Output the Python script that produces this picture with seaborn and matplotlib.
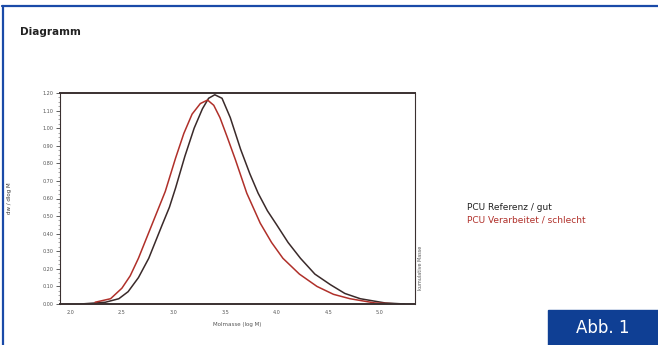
import numpy as np
import pandas as pd
import matplotlib
matplotlib.use("Agg")
import matplotlib.pyplot as plt
import seaborn as sns

# log molar mass vs. normalised signal
x_ref = [2.10, 2.34, 2.47, 2.56, 2.66, 2.76, 2.89, 2.96, 3.02, 3.11, 3.20, 3.28, 3.34,
         3.40, 3.47, 3.55, 3.65, 3.74, 3.82, 3.91, 4.00, 4.11, 4.23, 4.37, 4.52, 4.66,
         4.81, 5.05, 5.24]
y_ref = [0.00, 0.01, 0.03, 0.07, 0.15, 0.26, 0.45, 0.55, 0.66, 0.84, 1.00, 1.11, 1.17,
         1.19, 1.17, 1.06, 0.88, 0.74, 0.63, 0.53, 0.45, 0.35, 0.26, 0.17, 0.11, 0.06,
         0.03, 0.006, 0.0]

x_proc = [2.24, 2.39, 2.50, 2.58, 2.66, 2.79, 2.92, 3.02, 3.10, 3.18, 3.26, 3.33, 3.39,
          3.45, 3.52, 3.60, 3.71, 3.84, 3.95, 4.06, 4.22, 4.39, 4.55, 4.71, 4.95, 5.19]
y_proc = [0.01, 0.03, 0.09, 0.16, 0.26, 0.45, 0.64, 0.83, 0.97, 1.08, 1.14, 1.16, 1.13,
          1.06, 0.95, 0.82, 0.63, 0.46, 0.35, 0.26, 0.17, 0.10, 0.055, 0.03, 0.006, 0.0]

x_ticks = [2.0, 2.5, 3.0, 3.5, 4.0, 4.5, 5.0]
y_ticks = [0.0, 0.1, 0.2, 0.3, 0.4, 0.5, 0.6, 0.7, 0.8, 0.9, 1.0, 1.1, 1.2]

series_names = ["PCU Referenz / gut", "PCU Verarbeitet / schlecht"]
series_colors = ["#3a2a2a", "#b0302a"]

df = pd.concat([
    pd.DataFrame({"logM": x_ref, "w": y_ref, "probe": series_names[0]}),
    pd.DataFrame({"logM": x_proc, "w": y_proc, "probe": series_names[1]}),
])

sns.set_style("white")
plt.rcParams["font.family"] = ["DejaVu Sans"]

fig = plt.figure(figsize=(6.58, 3.45), dpi=100)
ax = fig.add_axes([60 / 658, 1 - 304 / 345, 355 / 658, 211 / 345])

sns.lineplot(data=df, x="logM", y="w", hue="probe", palette=series_colors,
             linewidth=1.1, sort=False, legend=False, ax=ax)

ax.set_xlim(1.9, 5.34)
ax.set_ylim(0, 1.2)
ax.set_xticks(x_ticks)
ax.set_xticklabels([f"{v:.1f}" for v in x_ticks], fontsize=3.5, color="#555555")
ax.set_yticks(y_ticks)
ax.set_yticklabels([f"{v:.2f}" for v in y_ticks], fontsize=3.5, color="#555555")
ax.set_yticks(np.arange(0, 1.2, 0.025), minor=True)
ax.tick_params(axis="both", which="major", length=3, width=0.6, color="#444444", pad=1.5)
ax.tick_params(axis="y", which="minor", length=1.5, width=0.4, color="#666666", left=True)
ax.set_xlabel("Molmasse (log M)", fontsize=4, color="#555555", labelpad=5)
ax.set_ylabel("dw / dlog M", fontsize=4, color="#333333", labelpad=22)

for side in ["left", "bottom", "top", "right"]:
    ax.spines[side].set_visible(True)
    ax.spines[side].set_color("#3a3030")
ax.spines["top"].set_linewidth(1.4)
ax.spines["bottom"].set_linewidth(1.4)
ax.spines["left"].set_linewidth(0.8)
ax.spines["right"].set_linewidth(0.8)

ax2 = ax.twinx()
ax2.set_ylim(0, 1.2)
ax2.set_yticks([])
ax2.set_ylabel("kumulative Masse", fontsize=3.5, color="#555555", labelpad=2, y=0.17)
for side in ["left", "bottom", "top", "right"]:
    ax2.spines[side].set_visible(False)

fig.text(20 / 658, 1 - 32 / 345, "Diagramm", fontsize=7.5, fontweight="bold",
         color="#222222", va="center")

fig.text(467 / 658, 1 - 207 / 345, series_names[0], fontsize=6.5, color="#222222",
         va="center")
fig.text(467 / 658, 1 - 220 / 345, series_names[1], fontsize=6.5, color=series_colors[1],
         va="center")

# blue frame lines (top and left)
fig.add_artist(plt.Line2D([0.003, 1.0], [1 - 6 / 345, 1 - 6 / 345], color="#1a4aa8",
                          linewidth=1.6, transform=fig.transFigure))
fig.add_artist(plt.Line2D([3 / 658, 3 / 658], [0.0, 1 - 6 / 345], color="#1a4aa8",
                          linewidth=1.6, transform=fig.transFigure))

# "Abb. 1" badge
fig.add_artist(plt.Rectangle((548 / 658, 0), 110 / 658, 35 / 345, color="#0f3f94",
                             transform=fig.transFigure))
fig.text(603 / 658, 17 / 345, "Abb. 1", fontsize=12, color="white", ha="center",
         va="center", family=["Liberation Sans Narrow", "DejaVu Sans"])

fig.savefig("out.png", dpi=100)
